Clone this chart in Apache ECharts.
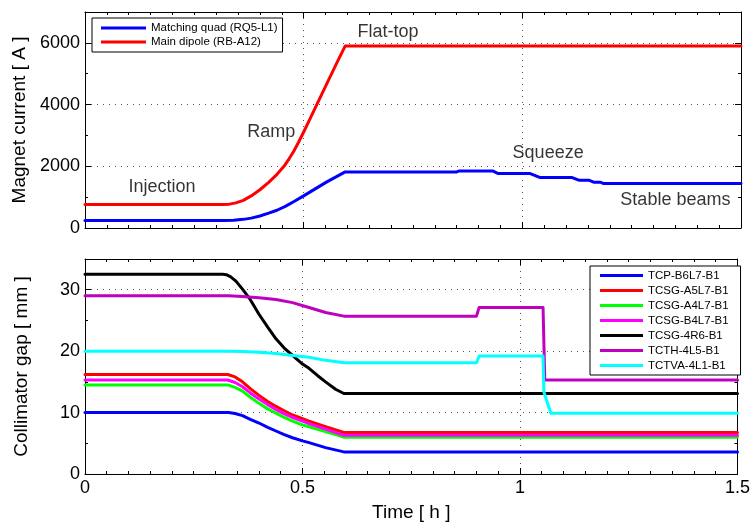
<!DOCTYPE html>
<html>
<head>
<meta charset="utf-8">
<script src="https://cdn.jsdelivr.net/npm/echarts@6/dist/echarts.min.js"></script>
<style>
html, body { margin: 0; padding: 0; background: #fff; }
#chart { width: 753px; height: 523px; }
</style>
</head>
<body>
<div id="chart"></div>
<script>
// ---- Magnet currents during the LHC cycle: [time (h), current (A)] ----
const quadName = 'Matching quad (RQ5-L1)';
const dipoleName = 'Main dipole (RB-A12)';
const quadCurrent = [
  [0, 240], [0.316, 240], [0.34, 255], [0.362, 280], [0.38, 320], [0.40, 390],
  [0.42, 480], [0.439, 575], [0.458, 700], [0.477, 850], [0.50, 1040], [0.515, 1170],
  [0.553, 1495], [0.595, 1817], [0.85, 1817], [0.856, 1849], [0.932, 1849], [0.945, 1763],
  [1.018, 1763], [1.041, 1634], [1.114, 1634], [1.129, 1548], [1.152, 1548], [1.163, 1484],
  [1.178, 1484], [1.186, 1441], [1.5, 1441]
];
const dipoleCurrent = [
  [0, 760], [0.316, 760], [0.33, 773], [0.345, 814], [0.362, 896], [0.38, 1040],
  [0.40, 1240], [0.42, 1480], [0.439, 1740], [0.455, 2000], [0.467, 2250], [0.477, 2480],
  [0.488, 2770], [0.50, 3110], [0.515, 3550], [0.53, 4000], [0.553, 4680], [0.575, 5330],
  [0.595, 5900], [1.5, 5900]
];

// Phase labels placed on the current plot: text, time (h), current (A)
const phaseText = ['Injection', 'Ramp', 'Flat-top', 'Squeeze', 'Stable beams'];
const phaseTime = [0.176, 0.426, 0.693, 1.059, 1.350];
const phaseCurrent = [1323, 3113, 6355, 2419, 903];

// ---- Collimator gaps: [time (h), gap (mm)] ----
const collNames = ['TCP-B6L7-B1', 'TCSG-A5L7-B1', 'TCSG-A4L7-B1', 'TCSG-B4L7-B1',
                   'TCSG-4R6-B1', 'TCTH-4L5-B1', 'TCTVA-4L1-B1'];
const collColors = ['#0000ff', '#ff0000', '#00ff00', '#ff00ff', '#000000', '#bf00bf', '#00ffff'];
const gapTCP_B6L7 = [
  [0, 10.0], [0.33, 10.0], [0.345, 9.85], [0.362, 9.5], [0.38, 8.9], [0.40, 8.3],
  [0.42, 7.6], [0.439, 7.0], [0.458, 6.4], [0.477, 5.9], [0.50, 5.4], [0.515, 5.1],
  [0.553, 4.3], [0.595, 3.6], [1.5, 3.6]
];
const gapTCSG_A5L7 = [
  [0, 16.2], [0.328, 16.2], [0.345, 15.8], [0.362, 15.0], [0.38, 13.9], [0.40, 12.8],
  [0.42, 11.8], [0.439, 11.0], [0.458, 10.3], [0.477, 9.6], [0.50, 9.0], [0.515, 8.6],
  [0.553, 7.7], [0.595, 6.75], [1.5, 6.75]
];
const gapTCSG_A4L7 = [
  [0, 14.5], [0.328, 14.5], [0.345, 14.1], [0.362, 13.5], [0.38, 12.5], [0.40, 11.5],
  [0.42, 10.6], [0.439, 9.9], [0.458, 9.2], [0.477, 8.6], [0.50, 8.0], [0.515, 7.7],
  [0.553, 6.9], [0.595, 6.0], [1.5, 6.0]
];
const gapTCSG_B4L7 = [
  [0, 15.3], [0.328, 15.3], [0.345, 14.9], [0.362, 14.2], [0.38, 13.2], [0.40, 12.2],
  [0.42, 11.3], [0.439, 10.5], [0.458, 9.8], [0.477, 9.2], [0.50, 8.6], [0.515, 8.2],
  [0.553, 7.3], [0.595, 6.3], [1.5, 6.3]
];
const gapTCSG_4R6 = [
  [0, 32.5], [0.317, 32.5], [0.325, 32.45], [0.335, 32.1], [0.347, 31.4], [0.362, 30.1],
  [0.378, 28.6], [0.40, 26.0], [0.42, 23.9], [0.439, 22.0], [0.458, 20.5], [0.477, 19.3],
  [0.50, 17.9], [0.515, 17.2], [0.535, 16.0], [0.553, 15.0], [0.576, 13.8], [0.595, 13.1],
  [1.5, 13.1]
];
const gapTCTH_4L5 = [
  [0, 29.0], [0.33, 29.0], [0.362, 28.9], [0.40, 28.7], [0.439, 28.4], [0.477, 27.9],
  [0.515, 27.1], [0.553, 26.3], [0.595, 25.7], [0.90, 25.7], [0.906, 27.1], [1.053, 27.1],
  [1.057, 15.3], [1.5, 15.3]
];
const gapTCTVA_4L1 = [
  [0, 20.0], [0.33, 20.0], [0.362, 19.95], [0.40, 19.8], [0.439, 19.6], [0.477, 19.3],
  [0.515, 19.0], [0.553, 18.5], [0.595, 18.1], [0.90, 18.1], [0.906, 19.2], [1.053, 19.2],
  [1.055, 13.3], [1.071, 9.9], [1.5, 9.9]
];
const collGaps = [gapTCP_B6L7, gapTCSG_A5L7, gapTCSG_A4L7, gapTCSG_B4L7,
                  gapTCSG_4R6, gapTCTH_4L5, gapTCTVA_4L1];

// ---- Axis ranges and ticks ----
const timeMax = 1.5, timeStep = 0.5;
const currentMax = 7000, currentStep = 2000;
const gapMax = 35, gapStep = 10;

const FONT = "'Liberation Sans', Arial, Helvetica, sans-serif";
const BLACK = '#000';

function timeAxis(gridIndex, position, withLabels, name) {
  return {
    type: 'value', gridIndex, position, min: 0, max: timeMax, interval: timeStep,
    axisLine: { show: true, onZero: false, lineStyle: { color: BLACK, width: 1 } },
    axisTick: { show: true, inside: true, length: 6, lineStyle: { color: BLACK, width: 1 } },
    minorTick: { show: true, splitNumber: 10, length: 3, lineStyle: { color: BLACK, width: 1 } },
    axisLabel: { show: withLabels, color: BLACK, fontSize: 18, fontFamily: FONT, margin: 5,
                 formatter: v => String(v) },
    splitLine: { show: position === 'bottom', lineStyle: { color: '#555', width: 1, type: [1, 5] } },
    name: name || '', nameLocation: 'middle', nameGap: 29,
    nameTextStyle: { color: BLACK, fontSize: 19, fontFamily: FONT }
  };
}

function valueAxis(gridIndex, position, max, step, withLabels, name) {
  return {
    type: 'value', gridIndex, position, min: 0, max, interval: step,
    axisLine: { show: true, onZero: false, lineStyle: { color: BLACK, width: 1 } },
    axisTick: { show: true, inside: true, length: 6, lineStyle: { color: BLACK, width: 1 } },
    minorTick: { show: true, splitNumber: 2, length: 3, lineStyle: { color: BLACK, width: 1 } },
    axisLabel: { show: withLabels, color: BLACK, fontSize: 18, fontFamily: FONT, margin: 5,
                 formatter: v => (v % step === 0 ? String(v) : '') },
    splitLine: { show: position === 'left', lineStyle: { color: '#555', width: 1, type: [1, 5] } },
    name: name || '', nameLocation: 'middle', nameGap: 54,
    nameTextStyle: { color: BLACK, fontSize: 19, fontFamily: FONT }
  };
}

function curve(name, data, color, xIdx, yIdx) {
  return {
    type: 'line', name, data, xAxisIndex: xIdx, yAxisIndex: yIdx,
    showSymbol: false, symbol: 'none', animation: false, silent: true,
    lineStyle: { color, width: 3, join: 'round', cap: 'round' },
    itemStyle: { color }
  };
}

const series = [
  curve(quadName, quadCurrent, '#0000ff', 0, 0),
  curve(dipoleName, dipoleCurrent, '#ff0000', 0, 0),
  {
    type: 'scatter', xAxisIndex: 0, yAxisIndex: 0, symbolSize: 0.1, silent: true, z: 5,
    itemStyle: { color: 'transparent' },
    label: { show: true, position: 'inside', formatter: '{b}', color: BLACK,
             fontSize: 18, fontFamily: FONT },
    data: phaseText.map((t, i) => ({ name: t, value: [phaseTime[i], phaseCurrent[i]] }))
  }
];
collNames.forEach((n, i) => series.push(curve(n, collGaps[i], collColors[i], 2, 2)));

const legendText = { color: BLACK, fontSize: 11.5, fontFamily: FONT };

const option = {
  animation: false,
  backgroundColor: '#fff',
  grid: [
    { left: 85, right: 12, top: 12, height: 216 },
    { left: 85, right: 12, top: 259, height: 218 }
  ],
  xAxis: [
    timeAxis(0, 'bottom', false),
    timeAxis(0, 'top', false),
    timeAxis(1, 'bottom', true, 'Time [ h ]'),
    timeAxis(1, 'top', false)
  ],
  yAxis: [
    valueAxis(0, 'left', currentMax, currentStep, true, 'Magnet current [ A ]'),
    valueAxis(0, 'right', currentMax, currentStep, false),
    valueAxis(1, 'left', gapMax, gapStep, true, 'Collimator gap [ mm ]'),
    valueAxis(1, 'right', gapMax, gapStep, false)
  ],
  legend: [
    {
      data: [quadName, dipoleName], orient: 'vertical', left: 92, top: 18,
      icon: 'rect', itemWidth: 45, itemHeight: 3, itemGap: 0,
      padding: [3, 5, 3, 9], borderColor: BLACK, borderWidth: 1, backgroundColor: '#fff',
      textStyle: Object.assign({ lineHeight: 14 }, legendText),
      selectedMode: false
    },
    {
      data: collNames, orient: 'vertical', left: 590, top: 266,
      icon: 'rect', itemWidth: 43, itemHeight: 3, itemGap: 0,
      padding: [2, 12, 2, 10], borderColor: BLACK, borderWidth: 1, backgroundColor: '#fff',
      textStyle: Object.assign({ lineHeight: 15 }, legendText),
      selectedMode: false
    }
  ],
  series
};

const chart = echarts.init(document.getElementById('chart'), null, { renderer: 'canvas' });
chart.setOption(option);
</script>
</body>
</html>
